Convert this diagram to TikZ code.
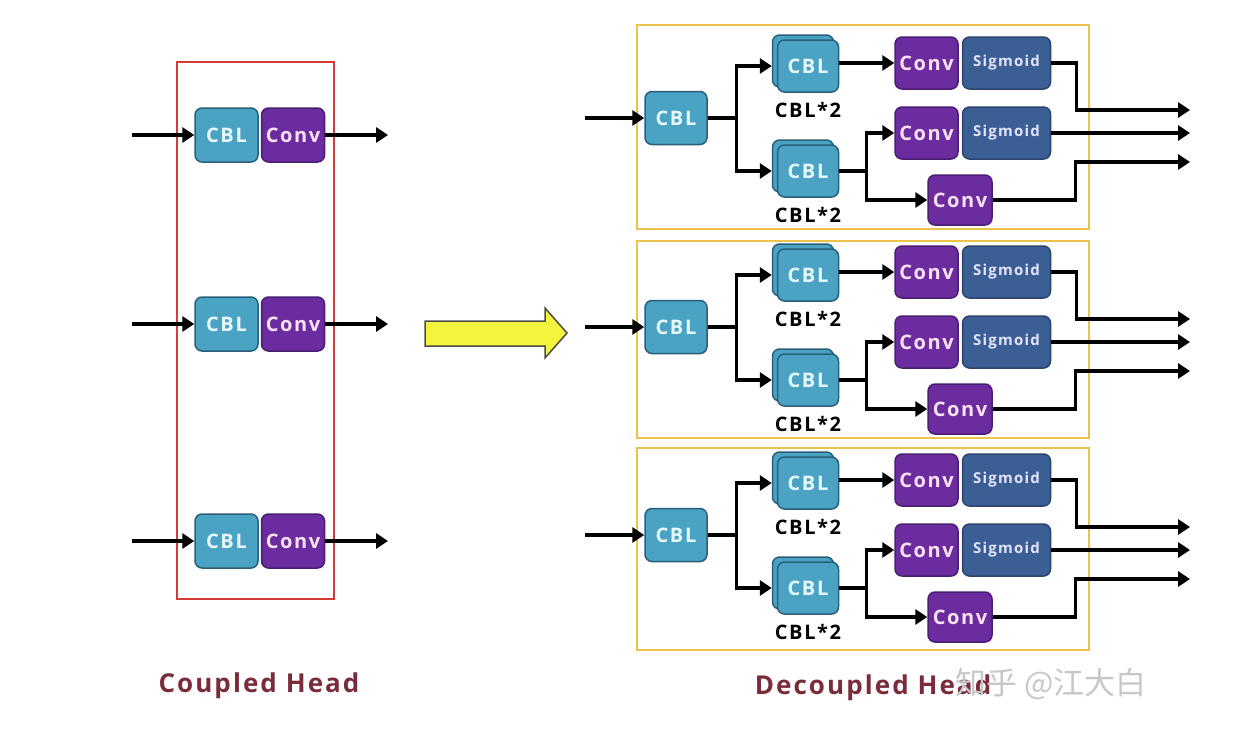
\documentclass[tikz,border=0pt]{standalone}
\usepackage{fontspec}
\setmainfont{Open Sans}
\newfontfamily\boxfont{Open Sans}[LetterSpace=8.0]
\newfontfamily\cjkfont{Noto Sans CJK SC}
\usetikzlibrary{positioning,arrows.meta,calc}

\definecolor{cblblue}{HTML}{4BA3C3}
\definecolor{cbledge}{HTML}{2A5F7A}
\definecolor{convpurple}{HTML}{6A2C9E}
\definecolor{convedge}{HTML}{4A1E73}
\definecolor{sigblue}{HTML}{3B5E94}
\definecolor{sigedge}{HTML}{2A446E}
\definecolor{panelgold}{HTML}{EBC24A}
\definecolor{framered}{HTML}{D43A36}
\definecolor{headred}{HTML}{7A2C3A}
\definecolor{bigyellow}{HTML}{F4F43C}

\begin{document}
\begin{tikzpicture}[x=1pt,y=-1pt,
  >={Triangle[length=12pt,width=15pt]},
  flow/.style={->,line width=3.2pt},
  wire/.style={line width=3.2pt},
  blk/.style={rounded corners=7pt,line width=1.5pt,inner sep=0pt,
    font=\boxfont\bfseries\fontsize{20}{20}\selectfont},
  cbl/.style={blk,fill=cblblue,draw=cbledge,text=white!90!cyan,
    minimum width=63pt,minimum height=54pt},
  stk/.style={cbl,minimum width=61pt,minimum height=52pt},
  conv/.style={blk,fill=convpurple,draw=convedge,text=white!88!magenta,
    minimum width=63pt,minimum height=52pt},
  sig/.style={blk,fill=sigblue,draw=sigedge,text=white!90!blue,
    minimum width=88pt,minimum height=52pt,
    font=\boxfont\bfseries\fontsize{15}{15}\selectfont},
  tag/.style={inner sep=0pt,font=\boxfont\bfseries\fontsize{20}{20}\selectfont},
  headtitle/.style={inner sep=0pt,text=headred,
    font=\boxfont\bfseries\fontsize{26}{26}\selectfont},
  panel/.style={draw=panelgold,line width=2pt}
]
\useasboundingbox[fill=white] (0,0) rectangle (1258,742);

% coupled head
\draw[draw=framered,line width=2pt] (177,62) rectangle (334,599);
\foreach \r/\yy in {1/135,2/324,3/541} {
  \node[cbl] (l\r-cbl) at (226.5,\yy) {CBL};
  \node[conv,minimum height=54pt,right=2pt of l\r-cbl] (l\r-conv) {Conv};
  \coordinate (l\r-in) at (132,\yy);
  \coordinate (l\r-out) at (388,\yy);
  \draw[flow] (l\r-in) -- (l\r-cbl);
  \draw[flow] (l\r-conv) -- (l\r-out);
}

% big arrow
\draw[fill=bigyellow,draw=black!70,line width=1.5pt]
  (425,321) -- (545,321) -- (545,308) -- (567,333) -- (545,358)
  -- (545,346) -- (425,346) -- cycle;

% decoupled head
\foreach \p/\o/\top/\bot in {1/0/25/229,2/209/241/438,3/417/448/650} {
  \draw[panel] (637,\top) rectangle (1089,\bot);
  \node[cbl,minimum width=62pt,minimum height=53pt] (p\p-cbl) at (676,118+\o) {CBL};
  \node[stk] (p\p-ub) at (803,61+\o) {};
  \node[stk] (p\p-u) at (808,66+\o) {CBL};
  \node[tag,below=9pt of p\p-u] (p\p-ut) {CBL*2};
  \node[stk] (p\p-db) at (803,166+\o) {};
  \node[stk] (p\p-d) at (808,171+\o) {CBL};
  \node[tag,below=9pt of p\p-d] (p\p-dt) {CBL*2};
  \node[conv] (p\p-ca) at (926.5,63+\o) {Conv};
  \node[sig,right=3pt of p\p-ca] (p\p-sa) {Sigmoid};
  \node[conv] (p\p-cb) at (926.5,133+\o) {Conv};
  \node[sig,right=3pt of p\p-cb] (p\p-sb) {Sigmoid};
  \node[conv,minimum width=64pt,minimum height=50pt] (p\p-cc) at (960,200+\o) {Conv};
  \coordinate (p\p-in) at (585,118+\o);
  \coordinate (p\p-o1) at (1190,110+\o);
  \coordinate (p\p-o2) at (1190,133+\o);
  \coordinate (p\p-o3) at (1190,162+\o);
  \draw[flow] (p\p-in) -- (p\p-cbl);
  \draw[wire] (p\p-cbl.east) -- ++(29,0) coordinate (p\p-j1);
  \draw[flow] (p\p-j1) |- (p\p-ub.west |- p\p-u.center);
  \draw[flow] (p\p-j1) |- (p\p-db.west |- p\p-d.center);
  \draw[flow] (p\p-u.east |- p\p-ca) -- (p\p-ca);
  \draw[wire] (p\p-d.east) -- ++(27,0) coordinate (p\p-j2);
  \draw[flow] (p\p-j2) |- (p\p-cb);
  \draw[flow] (p\p-j2) |- (p\p-cc);
  \draw[flow] (p\p-sa.east) -- ++(25,0) |- (p\p-o1);
  \draw[flow] (p\p-sb) -- (p\p-o2);
  \draw[flow] (p\p-cc.east) -- ++(83,0) |- (p\p-o3);
}

% titles
\node[headtitle] (coupled) at (259,686) {Coupled Head};
\node[headtitle] (decoupled) at (873,688) {Decoupled Head};
\node[anchor=west,inner sep=0pt,text=black!22,
  font=\cjkfont\fontsize{31}{31}\selectfont] (mark) at (955,684) {知乎 @江大白};
\end{tikzpicture}
\end{document}
